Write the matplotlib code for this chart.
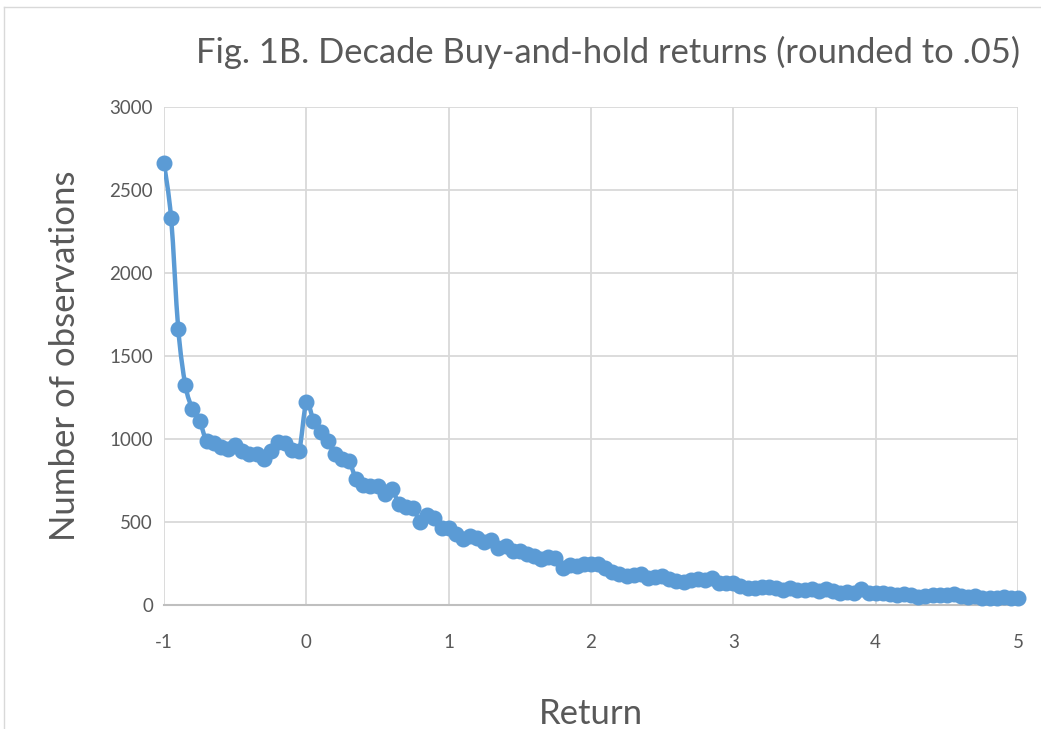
import matplotlib
matplotlib.use("Agg")
import matplotlib.pyplot as plt
import numpy as np
from matplotlib.path import Path
from matplotlib.patches import PathPatch
from matplotlib.lines import Line2D

plt.rcParams['font.family'] = ['Lato', 'DejaVu Sans']

# return buckets (rounded to .05) and counts
returns = [round(-1 + 0.05 * i, 2) for i in range(121)]
counts = [2660, 2330, 1665, 1325, 1180, 1110, 985, 975, 950, 940,
          965, 925, 910, 910, 880, 925, 980, 975, 935, 930,
          1220, 1110, 1045, 985, 910, 880, 865, 760, 725, 715,
          715, 670, 700, 610, 590, 585, 500, 540, 525, 465,
          465, 430, 400, 415, 405, 380, 390, 345, 355, 325,
          325, 305, 295, 275, 290, 285, 225, 240, 235, 245,
          245, 245, 220, 200, 185, 175, 180, 185, 165, 170,
          175, 155, 145, 140, 150, 155, 150, 160, 135, 130,
          130, 115, 105, 100, 110, 110, 100, 90, 100, 90,
          90, 95, 85, 95, 85, 75, 80, 75, 95, 75,
          75, 70, 65, 60, 65, 60, 50, 55, 60, 60,
          60, 65, 55, 50, 55, 40, 45, 45, 50, 40,
          45]

xticks = [-1, 0, 1, 2, 3, 4, 5]
yticks = [0, 500, 1000, 1500, 2000, 2500, 3000]

blue = '#5b9bd5'
grey_txt = '#595959'

fig = plt.figure(figsize=(10.41, 7.29), dpi=100)
ax = fig.add_axes([164 / 1041, 1 - 605 / 729, (1018 - 164) / 1041, (605 - 107) / 729])

# smoothed line like excel (bezier through the points)
x = np.array(returns, dtype=float)
y = np.array(counts, dtype=float)
verts = [(x[0], y[0])]
codes = [Path.MOVETO]
n = len(x)
for i in range(n - 1):
    p0 = (x[max(i - 1, 0)], y[max(i - 1, 0)])
    p1 = (x[i], y[i])
    p2 = (x[i + 1], y[i + 1])
    p3 = (x[min(i + 2, n - 1)], y[min(i + 2, n - 1)])
    c1 = (p1[0] + (p2[0] - p0[0]) / 6, p1[1] + (p2[1] - p0[1]) / 6)
    c2 = (p2[0] - (p3[0] - p1[0]) / 6, p2[1] - (p3[1] - p1[1]) / 6)
    verts += [c1, c2, p2]
    codes += [Path.CURVE4] * 3
ax.add_patch(PathPatch(Path(verts, codes), facecolor='none', edgecolor=blue,
                       lw=3.2, capstyle='round', joinstyle='round', zorder=3))
ax.plot(returns, counts, linestyle='none', marker='o', markersize=10.5,
        color=blue, zorder=4, clip_on=False)

ax.set_xlim(-1, 5)
ax.set_ylim(0, 3000)
ax.set_xticks(xticks)
ax.set_yticks(yticks)
ax.set_xticklabels(['-1', '0', '1', '2', '3', '4', '5'])
ax.tick_params(length=0, labelsize=13.5, colors=grey_txt)
ax.tick_params(axis='x', pad=21)
ax.tick_params(axis='y', pad=8)
ax.grid(True, color='#d9d9d9', lw=1.3)
ax.set_axisbelow(True)
for s in ['top', 'right', 'left']:
    ax.spines[s].set_visible(False)
ax.spines['bottom'].set_color('#bfbfbf')
ax.spines['bottom'].set_linewidth(1.5)
ax.spines['bottom'].set_zorder(2)

ax.set_ylabel('Number of observations', fontsize=25, color=grey_txt, labelpad=20)
ax.set_xlabel('Return', fontsize=25, color=grey_txt, labelpad=34)
fig.text(608 / 1041, 1 - 52 / 729, 'Fig. 1B. Decade Buy-and-hold returns (rounded to .05)',
         fontsize=24.8, color=grey_txt, ha='center', va='center')

# chart-area border
fig.add_artist(Line2D([4 / 1041, 4 / 1041], [0, 1 - 7 / 729], transform=fig.transFigure,
                      color='#d9d9d9', lw=1))
fig.add_artist(Line2D([4 / 1041, 1], [1 - 7 / 729, 1 - 7 / 729], transform=fig.transFigure,
                      color='#d9d9d9', lw=1))

fig.savefig('out.png', dpi=100)
